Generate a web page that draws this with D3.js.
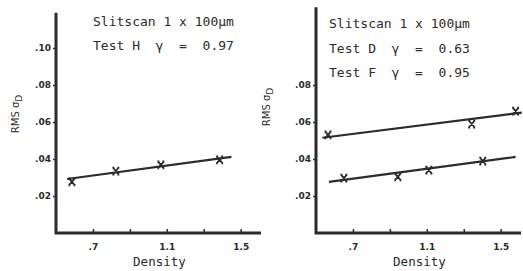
<!DOCTYPE html>
<html>
<head>
<meta charset="utf-8">
<script src="https://cdn.jsdelivr.net/npm/d3@7"></script>
<style>
	body { margin: 0; background: #fff; }
	svg text { fill: #2b2b2b; }
	.mono { font-family: 'DejaVu Sans Mono', monospace; white-space: pre; }
	.tick text { font-family: 'DejaVu Sans', sans-serif; font-weight: bold; font-size: 9px; }
</style>
</head>
<body>
<svg id="chart" width="523" height="271"></svg>
<script>
'use strict'

// axis ticks, shared by both panels
let densityTicks = [0.7, 0.9, 1.1, 1.3, 1.5];
let densityTickLabels = ['.7', '', '1.1', '', '1.5'];
let rmsTicksLeft = [0.02, 0.04, 0.06, 0.08, 0.10];
let rmsTickLabelsLeft = ['.02', '.04', '.06', '.08', '.10'];
let rmsTicksRight = [0.02, 0.04, 0.06, 0.08];
let rmsTickLabelsRight = ['.02', '.04', '.06', '.08'];

// left panel: Test H
let densityH = [0.586, 0.824, 1.068, 1.386];
let rmsH = [0.0276, 0.0335, 0.0368, 0.0395];
let fitDensityH = [0.56, 1.45];
let fitRmsH = [0.0292, 0.0411];

// right panel, upper series
let densityUpper = [0.565, 1.343, 1.581];
let rmsUpper = [0.0530, 0.0589, 0.0659];
let fitDensityUpper = [0.535, 1.614];
let fitRmsUpper = [0.0515, 0.0651];

// right panel, lower series
let densityLower = [0.651, 0.943, 1.111, 1.403];
let rmsLower = [0.0297, 0.0303, 0.0340, 0.0389];
let fitDensityLower = [0.57, 1.581];
let fitRmsLower = [0.0276, 0.0411];

let notesLeft = ['Slitscan 1 x 100\u03bcm', 'Test H  \u03b3  =  0.97'];
let notesRight = ['Slitscan 1 x 100\u03bcm', 'Test D  \u03b3  =  0.63', 'Test F  \u03b3  =  0.95'];

const ink = '#2b2b2b';
const svg = d3.select('#chart');

/**
 * draw one panel
 * @param {Object} cfg left offset, y top, ticks, series, notes
 */
function drawPanel(cfg) {
	let g = svg.append('g');

	let x = d3.scaleLinear().domain([0.5, 1.61]).range([cfg.left, cfg.left + 205]);
	let y = d3.scaleLinear().domain([0, cfg.yMax]).range([233, 233 - cfg.yMax * 1850]);

	// x ticks point up, inside the frame
	let xAxis = d3.axisBottom(x)
		.tickValues(densityTicks)
		.tickFormat((d, i) => densityTickLabels[i])
		.tickSize(-4)
		.tickSizeOuter(0)
		.tickPadding(11);
	let gx = g.append('g').attr('transform', `translate(0,${y(0)})`).call(xAxis);
	gx.select('.domain').remove();
	gx.selectAll('line').attr('stroke', ink).attr('stroke-width', 1.5);

	let yAxis = d3.axisLeft(y)
		.tickValues(cfg.yTicks)
		.tickFormat((d, i) => cfg.yLabels[i])
		.tickSize(3)
		.tickSizeOuter(0)
		.tickPadding(2);
	let gy = g.append('g').attr('transform', `translate(${x(0.5)},0)`).call(yAxis);
	gy.select('.domain').remove();
	gy.selectAll('line').attr('stroke', ink).attr('stroke-width', 1.5);

	// heavy L shaped frame
	let frame = d3.line()([[x(0.5), y(cfg.yMax)], [x(0.5), y(0)], [x(1.61), y(0)]]);
	g.append('path')
		.attr('d', frame)
		.attr('fill', 'none')
		.attr('stroke', ink)
		.attr('stroke-width', 3);

	let line = d3.line().x(d => x(d[0])).y(d => y(d[1]));

	cfg.series.forEach(function(s) {
		let fit = d3.zip(s.fitX, s.fitY);
		g.append('path')
			.attr('d', line(fit))
			.attr('fill', 'none')
			.attr('stroke', ink)
			.attr('stroke-width', 2.2);

		// typewriter style x marks
		g.selectAll(null)
			.data(d3.zip(s.x, s.y))
			.enter().append('path')
			.attr('transform', d => `translate(${x(d[0])},${y(d[1])})`)
			.attr('d', 'M-3,-3.5L3,3.5M3,-3.5L-3,3.5M-3.5,-3.5H-1.5M1.5,-3.5H3.5M-3.5,3.5H-1.5M1.5,3.5H3.5')
			.attr('fill', 'none')
			.attr('stroke', ink)
			.attr('stroke-width', 1.8);
	});

	g.selectAll(null)
		.data(cfg.notes)
		.enter().append('text')
		.attr('class', 'mono')
		.attr('x', cfg.noteX)
		.attr('y', (d, i) => cfg.noteY + i * cfg.noteStep)
		.attr('font-size', 13)
		.text(d => d);

	g.append('text')
		.attr('class', 'mono')
		.attr('x', x(1.06))
		.attr('y', 266)
		.attr('text-anchor', 'middle')
		.attr('font-size', 12.5)
		.text('Density');

	let title = g.append('text')
		.attr('transform', `translate(${cfg.titleX},${cfg.titleY}) rotate(-90)`)
		.attr('text-anchor', 'middle')
		.attr('font-family', 'DejaVu Sans, sans-serif')
		.attr('font-size', 10);
	title.append('tspan').text('RMS \u03c3');
	title.append('tspan').attr('dy', 3).attr('font-size', 9).text('D');
}

drawPanel({
	left: 56, yMax: 0.119,
	yTicks: rmsTicksLeft, yLabels: rmsTickLabelsLeft,
	series: [{x: densityH, y: rmsH, fitX: fitDensityH, fitY: fitRmsH}],
	notes: notesLeft, noteX: 93, noteY: 26, noteStep: 24,
	titleX: 19, titleY: 114
});

drawPanel({
	left: 316, yMax: 0.122,
	yTicks: rmsTicksRight, yLabels: rmsTickLabelsRight,
	series: [
		{x: densityUpper, y: rmsUpper, fitX: fitDensityUpper, fitY: fitRmsUpper},
		{x: densityLower, y: rmsLower, fitX: fitDensityLower, fitY: fitRmsLower}
	],
	notes: notesRight, noteX: 329, noteY: 28, noteStep: 24.5,
	titleX: 270, titleY: 107
});
</script>
</body>
</html>
